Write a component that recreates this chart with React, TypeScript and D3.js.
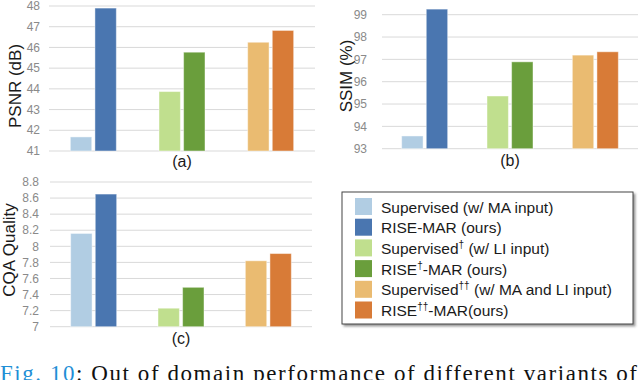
import React from "react";
import * as d3 from "d3";

const groups = ["MA", "LI", "MA+LI"];
const seriesNames = [
  "Supervised (w/ MA input)",
  "RISE-MAR (ours)",
  "Supervised† (w/ LI input)",
  "RISE†-MAR (ours)",
  "Supervised†† (w/ MA and LI input)",
  "RISE††-MAR(ours)",
];
const colors = ["#b1cde3", "#4a76b0", "#c0df8e", "#6a9e3c", "#eabb71", "#d87b37"];

// values per group: [supervised, RISE]
const psnr = [
  [41.68, 47.9],
  [43.87, 45.77],
  [46.25, 46.82],
];
const ssim = [
  [93.57, 99.25],
  [95.36, 96.89],
  [97.19, 97.34],
];
const cqa = [
  [8.16, 8.65],
  [7.23, 7.49],
  [7.82, 7.91],
];
const psnrTicks = [41, 42, 43, 44, 45, 46, 47, 48];
const ssimTicks = [93, 94, 95, 96, 97, 98, 99];
const cqaTicks = [7, 7.2, 7.4, 7.6, 7.8, 8, 8.2, 8.4, 8.6, 8.8];

const SANS = "'Liberation Sans', Arimo, Arial, Helvetica, sans-serif";
const SERIF = "'Liberation Serif', Tinos, 'Times New Roman', Times, serif";

type PanelProps = {
  data: number[][];
  ticks: number[];
  tickFmt: (v: number) => string;
  x0: number;
  x1: number;
  yTop: number;
  yBot: number;
  tickX: number;
  label: string;
  labelX: number;
  labelY: number;
  caption: string;
  captionY: number;
};

function Panel(p: PanelProps) {
  const y = d3
    .scaleLinear()
    .domain([p.ticks[0], p.ticks[p.ticks.length - 1]])
    .range([p.yBot, p.yTop]);
  const xg = d3.scaleBand<string>().domain(groups).range([p.x0, p.x1]);
  const xs = d3.scaleBand<number>().domain([0, 1]).range([-23, 23]).paddingInner(0.13);
  const cx = (p.x0 + p.x1) / 2;
  return (
    <g>
      {p.ticks.map((t) => (
        <g key={t}>
          <line x1={p.x0} x2={p.x1} y1={y(t)} y2={y(t)} stroke="#d9d9d9" strokeWidth={1} />
          <text
            x={p.tickX}
            y={y(t)}
            dy="0.35em"
            textAnchor="end"
            fill="#8a8a8a"
            style={{ fontFamily: SANS, fontSize: 12 }}
          >
            {p.tickFmt(t)}
          </text>
        </g>
      ))}
      {p.data.map((pair, gi) => {
        const gc = xg(groups[gi])! + xg.bandwidth() / 2;
        return pair.map((v, si) => (
          <rect
            key={gi + "-" + si}
            x={gc + xs(si)!}
            width={xs.bandwidth()}
            y={y(v)}
            height={p.yBot - y(v)}
            fill={colors[gi * 2 + si]}
            stroke="#ffffff"
            strokeOpacity={0.45}
            strokeWidth={1}
          />
        ));
      })}
      <text
        transform={`translate(${p.labelX},${p.labelY}) rotate(-90)`}
        textAnchor="middle"
        fill="#1a1a1a"
        style={{ fontFamily: SANS, fontSize: 17 }}
      >
        {p.label}
      </text>
      <text
        x={cx}
        y={p.captionY}
        textAnchor="middle"
        fill="#1a1a1a"
        style={{ fontFamily: SANS, fontSize: 16 }}
      >
        {p.caption}
      </text>
    </g>
  );
}

function LegendLabel({ name }: { name: string }) {
  const m = name.match(/^([^†]*)(†+)(.*)$/);
  if (!m) return <>{name}</>;
  return (
    <>
      {m[1]}
      <tspan style={{ fontSize: 10 }} dy={-6}>
        {m[2]}
      </tspan>
      <tspan dy={6}>{m[3]}</tspan>
    </>
  );
}

export default function App() {
  const W = 640;
  const H = 380;
  const fmt1 = (v: number) => String(v);
  const fmtC = (v: number) => (Number.isInteger(v) ? String(v) : v.toFixed(1));
  return (
    <svg
      width={W}
      height={H}
      style={{ position: "absolute", left: 0, top: 0, background: "#fff" }}
    >
      <defs>
        <filter id="shadow" x="-5%" y="-5%" width="115%" height="120%">
          <feDropShadow dx="2" dy="2" stdDeviation="1.2" floodColor="#555" floodOpacity="0.6" />
        </filter>
      </defs>
      <rect width={W} height={H} fill="#fff" />
      <Panel
        data={psnr}
        ticks={psnrTicks}
        tickFmt={fmt1}
        x0={49}
        x1={315}
        yTop={6}
        yBot={151}
        tickX={40}
        label="PSNR (dB)"
        labelX={21}
        labelY={86}
        caption="(a)"
        captionY={167}
      />
      <Panel
        data={ssim}
        ticks={ssimTicks}
        tickFmt={fmt1}
        x0={382}
        x1={638}
        yTop={14.7}
        yBot={148.7}
        tickX={367}
        label="SSIM (%)"
        labelX={352}
        labelY={76}
        caption="(b)"
        captionY={166}
      />
      <Panel
        data={cqa}
        ticks={cqaTicks}
        tickFmt={fmtC}
        x0={50}
        x1={312}
        yTop={182}
        yBot={326.7}
        tickX={39}
        label="CQA Quality"
        labelX={15}
        labelY={250}
        caption="(c)"
        captionY={344}
      />
      <g>
        <rect
          x={342}
          y={192}
          width={291}
          height={132}
          fill="#fff"
          stroke="#444"
          strokeWidth={1}
          filter="url(#shadow)"
        />
        {seriesNames.map((name, i) => {
          const ry = 198 + i * 20.7;
          return (
            <g key={name}>
              <rect x={355} y={ry} width={17} height={17} fill={colors[i]} />
              <text
                x={381}
                y={ry + 14.5}
                fill="#1a1a1a"
                style={{ fontFamily: SANS, fontSize: 15.5 }}
              >
                <LegendLabel name={name} />
              </text>
            </g>
          );
        })}
      </g>
      <text
        x={0}
        y={381}
        style={{ fontFamily: SERIF, fontSize: 23 }}
        textLength={637}
        lengthAdjust="spacing"
      >
        <tspan fill="#1f8fd6">Fig. 10</tspan>
        <tspan fill="#111">: Out of domain performance of different variants of</tspan>
      </text>
    </svg>
  );
}
